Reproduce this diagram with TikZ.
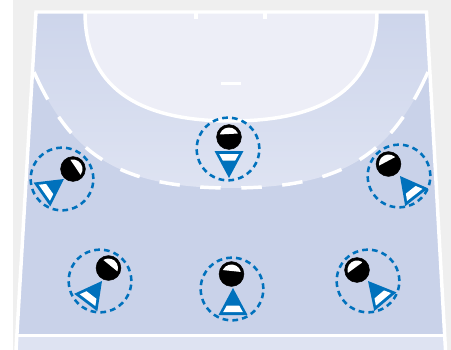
\documentclass[tikz,border=0pt]{standalone}
\usepackage{tikz}
\usetikzlibrary{positioning, calc}
\definecolor{backgrey}{HTML}{EFEFEF}
\definecolor{courtblue}{HTML}{C9D2E9}
\definecolor{zonetop}{HTML}{CDD5EB}
\definecolor{zonelow}{HTML}{DEE3F2}
\definecolor{goalpale}{HTML}{EDEEF7}
\definecolor{playerblue}{HTML}{0071BC}

% x, y of the head; angle of its white part; x, y of the tip; angle of the triangle
\newcommand{\player}[8]{%
  \node[reach] (reach#1) at (#2,#3) {};
  \node[head] (head#1) at (#4,#5) {};
  \begin{scope}[shift={(head#1.center)}, rotate=#6]
    \clip (0,0) circle (9.5);
    \fill[white] (-12,-12) rectangle (12,-3);
  \end{scope}
  \begin{scope}[shift={(#7)}, rotate=#8]
    \fill[playerblue] (0,0) -- (14.5,27) -- (-14.5,27) -- cycle;
    \fill[white] (-6.2,17.5) -- (6.2,17.5) -- (9.8,24) -- (-9.8,24) -- cycle;
  \end{scope}
}

\begin{document}
\begin{tikzpicture}[
    x=0.75pt, y=-0.75pt,
    courtline/.style={draw=white, line width=2.6pt},
    reach/.style={draw=playerblue, circle, minimum size=47pt, inner sep=0pt, line width=1.9pt, dash pattern=on 4.3pt off 3.1pt},
    head/.style={draw=black, fill=black, circle, minimum size=18.6pt, inner sep=0pt, line width=0.4pt}
]
\useasboundingbox (0,0) rectangle (451,350);
\fill[backgrey] (13,0) rectangle (451,350);

% court and zones
\fill[courtblue] (36,12) -- (426.5,12) -- (444.5,334) -- (17,334) -- cycle;
\shade[top color=zonetop, bottom color=zonelow] (36,12) -- (426.5,12) -- (429.8,72) -- (428,72)
  .. controls (392,152) and (346,188) .. (231,188)
  .. controls (116,188) and (70,152) .. (34,72) -- (32.7,72) -- cycle;
\fill[goalpale] (85,12) .. controls (85,85) and (135,121) .. (231,121)
  .. controls (327,121) and (377,85) .. (377,12) -- cycle;
\shade[left color=zonelow, middle color=goalpale, right color=zonelow] (17,337) rectangle (445,350);

% lines
\draw[courtline] (85,12) .. controls (85,85) and (135,121) .. (231,121)
  .. controls (327,121) and (377,85) .. (377,12);
\draw[courtline] (16,350) -- (36,12) -- (426.5,12) -- (445.5,350);
\draw[courtline] (17,335.5) -- (444.5,335.5);
\foreach \endx/\ctlx/\ctly in {34/70/116, 428/392/346} {
  \draw[courtline, dash pattern=on 15.4pt off 15.4pt on 15.4pt off 15.4pt on 15.4pt off 15.4pt on 15.4pt off 15.4pt on 15.4pt off 15.4pt on 15.4pt off 15.4pt on 40pt off 10pt, dash phase=23.1pt]
    (231,188) .. controls (\ctly,188) and (\ctlx,152) .. (\endx,72);
}
\draw[courtline] (196,12) -- (196,19);
\draw[courtline] (265,12) -- (265,19);
\draw[courtline] (221,83.5) -- (241,83.5);

% players
\player{A}{62}{179}{73}{169}{-56}{64,179}{-55}
\player{B}{228}{149}{229}{137}{3}{229,178}{180}
\player{C}{399}{176}{388.5}{164}{28}{400,176}{38}
\player{D}{100}{281}{108.5}{268}{-39}{102,281}{-37}
\player{E}{232}{289}{231.5}{274}{-6}{233,288}{0}
\player{F}{368}{281}{357}{270}{36}{368,281}{40}
\end{tikzpicture}
\end{document}
